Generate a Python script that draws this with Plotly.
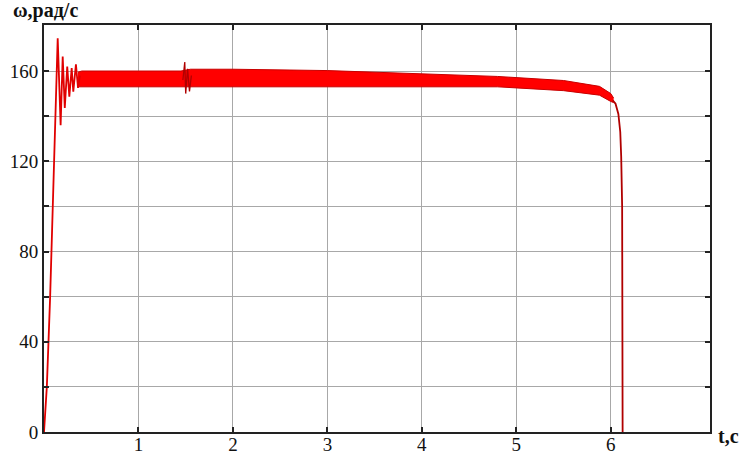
import plotly.graph_objects as go

# ---- data ----
t_rise = [0, 0.03, 0.065, 0.10, 0.125, 0.145, 0.176, 0.198, 0.22, 0.246, 0.268, 0.293, 0.31, 0.338, 0.36, 0.38]
w_rise = [0, 20, 60, 110, 155, 174.5, 136, 166.4, 143.6, 162, 148.6, 161.3, 150.8, 163, 152.5, 158]

t_band = [0.36, 0.40, 1.0, 1.45, 1.55, 2.0, 3.0, 4.0, 4.8, 5.5, 5.88, 6.0, 6.03]
w_upper = [159.5, 160.0, 160.0, 160.0, 160.8, 160.8, 160.2, 158.8, 157.6, 155.8, 153.2, 150.0, 148.0]
w_lower = [153.0, 153.0, 153.2, 153.2, 153.2, 153.3, 153.3, 153.3, 153.0, 151.3, 149.3, 146.5, 146.0]

t_dist = [1.47, 1.49, 1.50, 1.52, 1.54, 1.56]
w_dist = [156, 164, 150, 161, 151, 158]

t_fall = [6.02, 6.05, 6.08, 6.10, 6.11, 6.12, 6.125]
w_fall = [147, 145.5, 141, 133, 122, 100, 0]

x_ticks = [0, 1, 2, 3, 4, 5, 6]
x_ticktext = ["", "1", "2", "3", "4", "5", "6"]
y_ticks = [0, 20, 40, 60, 80, 100, 120, 140, 160, 180]
y_ticktext = ["0", "", "40", "", "80", "", "120", "", "160", ""]

FONT = "Liberation Serif, Times New Roman, serif"

fig = go.Figure()

# band (high-frequency oscillation envelope)
fig.add_trace(go.Scatter(x=t_band, y=w_lower, mode="lines",
                         line=dict(color="#c80000", width=1), hoverinfo="skip"))
fig.add_trace(go.Scatter(x=t_band, y=w_upper, mode="lines", fill="tonexty",
                         fillcolor="#ff0000",
                         line=dict(color="#c80000", width=1), hoverinfo="skip"))
# start-up transient
fig.add_trace(go.Scatter(x=t_rise, y=w_rise, mode="lines",
                         line=dict(color="#e00000", width=1.8)))
# disturbance at t=1.5
fig.add_trace(go.Scatter(x=t_dist, y=w_dist, mode="lines",
                         line=dict(color="#b00000", width=1.3)))
# final drop
fig.add_trace(go.Scatter(x=t_fall, y=w_fall, mode="lines",
                         line=dict(color="#b00000", width=1.8)))

axis_common = dict(showline=True, linecolor="#222222", linewidth=2, mirror="ticks",
                   showgrid=True, gridcolor="#a8a8a8", gridwidth=1,
                   ticks="inside", ticklen=5, tickcolor="#222222", tickwidth=1.5,
                   zeroline=False, automargin=False,
                   tickfont=dict(family=FONT, size=19, color="#111111"))

fig.update_xaxes(range=[0, 7.05], tickmode="array", tickvals=x_ticks,
                 ticktext=x_ticktext, ticklabelstandoff=-6, **axis_common)
fig.update_yaxes(range=[0, 180.4], tickmode="array", tickvals=y_ticks,
                 ticktext=y_ticktext, **axis_common)

fig.add_annotation(text="<b>ω,рад/с</b>", xref="paper", yref="paper",
                   x=-0.05, y=1.036, xanchor="left", yanchor="middle",
                   showarrow=False, font=dict(family=FONT, size=20, color="#111111"))
fig.add_annotation(text="<b>t,c</b>", xref="paper", yref="paper",
                   x=1.009, y=-0.01, xanchor="left", yanchor="middle",
                   showarrow=False, font=dict(family=FONT, size=20, color="#111111"))

fig.update_layout(width=744, height=457, showlegend=False,
                  margin=dict(l=44, r=34, t=25, b=25),
                  plot_bgcolor="white", paper_bgcolor="white")

fig.write_html("out.html", config={"displayModeBar": False},
               post_script="document.body.style.margin='0';document.body.style.overflow='hidden';")
